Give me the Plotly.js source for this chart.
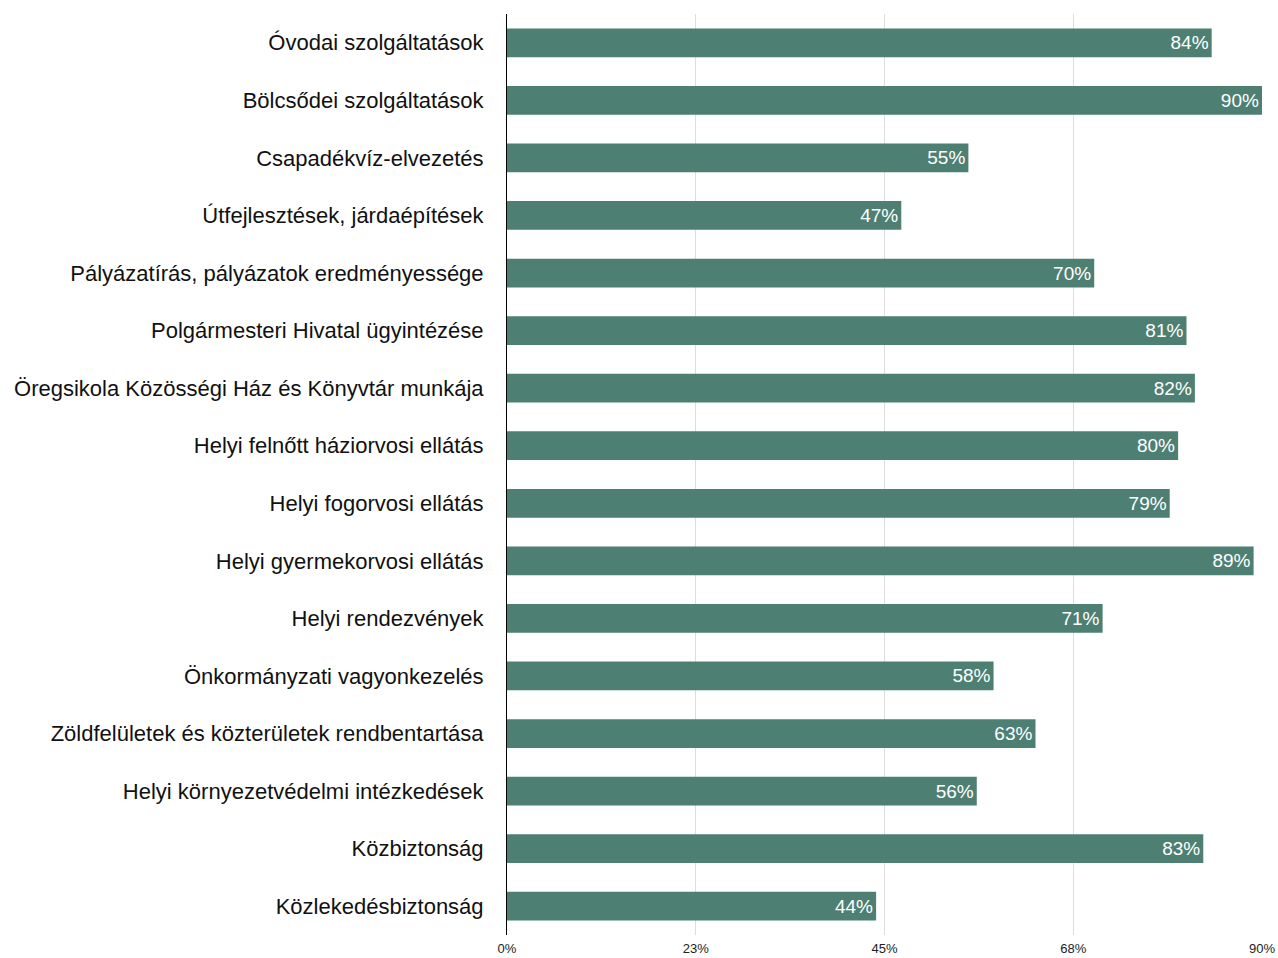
<!DOCTYPE html>
<html>
<head>
<meta charset="utf-8">
<script src="https://cdn.plot.ly/plotly-3.0.1.min.js"></script>
<style>html,body{margin:0;padding:0;background:#fff;}#chart{width:1278px;height:958px;}</style>
</head>
<body>
<div id="chart"></div>
<script>
const categories = [
  "Óvodai szolgáltatások",
  "Bölcsődei szolgáltatások",
  "Csapadékvíz-elvezetés",
  "Útfejlesztések, járdaépítések",
  "Pályázatírás, pályázatok eredményessége",
  "Polgármesteri Hivatal ügyintézése",
  "Öregsikola Közösségi Ház és Könyvtár munkája",
  "Helyi felnőtt háziorvosi ellátás",
  "Helyi fogorvosi ellátás",
  "Helyi gyermekorvosi ellátás",
  "Helyi rendezvények",
  "Önkormányzati vagyonkezelés",
  "Zöldfelületek és közterületek rendbentartása",
  "Helyi környezetvédelmi intézkedések",
  "Közbiztonság",
  "Közlekedésbiztonság"
];
const values = [84, 90, 55, 47, 70, 81, 82, 80, 79, 89, 71, 58, 63, 56, 83, 44];
const tickValues = [0, 22.5, 45, 67.5, 90];
const tickLabels = ["0%", "23%", "45%", "68%", "90%"];

const trace = {
  type: 'bar',
  orientation: 'h',
  y: categories,
  x: values,
  text: values.map(v => v + '%'),
  textposition: 'inside',
  insidetextanchor: 'end',
  textfont: {family: 'Liberation Sans, Arial, sans-serif', size: 19, color: '#ffffff'},
  marker: {color: '#4e7f73'},
  hoverinfo: 'none',
  cliponaxis: false
};

const layout = {
  width: 1278,
  height: 958,
  margin: {l: 507, r: 16, t: 14, b: 23},
  paper_bgcolor: '#ffffff',
  plot_bgcolor: '#ffffff',
  bargap: 0.5,
  showlegend: false,
  uniformtext: {mode: 'show', minsize: 19},
  font: {family: 'Liberation Sans, Arial, sans-serif', color: '#111111'},
  xaxis: {
    range: [0, 90],
    tickvals: tickValues,
    ticktext: tickLabels,
    showgrid: true,
    gridcolor: '#dddddd',
    gridwidth: 1,
    zeroline: false,
    showline: false,
    ticks: 'outside',
    ticklen: 1,
    tickcolor: 'rgba(0,0,0,0)',
    tickfont: {family: 'Liberation Sans, Arial, sans-serif', size: 13, color: '#222222'},
    fixedrange: true
  },
  yaxis: {
    autorange: 'reversed',
    type: 'category',
    showline: true,
    linecolor: '#000000',
    linewidth: 1,
    ticks: 'outside',
    ticklen: 18,
    tickcolor: 'rgba(0,0,0,0)',
    tickfont: {size: 22, color: '#111111'},
    showgrid: false,
    fixedrange: true
  }
};

Plotly.newPlot('chart', [trace], layout, {displayModeBar: false, staticPlot: true});
</script>
</body>
</html>
